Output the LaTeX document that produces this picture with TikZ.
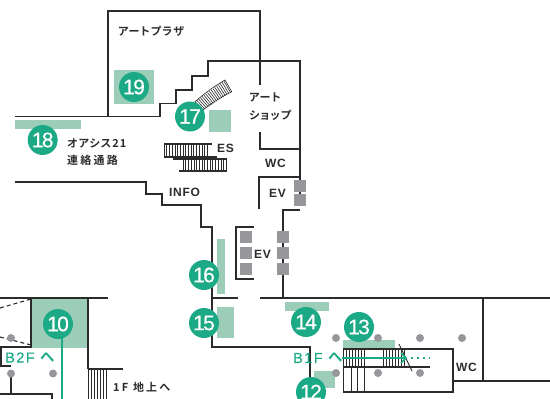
\documentclass[tikz,border=0pt]{standalone}
\usepackage{fontspec}
\usetikzlibrary{calc,arrows.meta}
\newfontfamily\jpf[LetterSpace=10,RawFeature={+palt}]{Noto Sans CJK JP Bold}
\newfontfamily\jpw[LetterSpace=20]{Noto Sans CJK JP Bold}
\newfontfamily\latf[LetterSpace=6]{Liberation Sans Bold}
\newfontfamily\tealf[LetterSpace=10,FakeBold=0.4]{Liberation Sans}
\newfontfamily\numf[LetterSpace=-8,FakeBold=0.5]{Liberation Sans}
\definecolor{wall}{HTML}{2B2B2B}
\definecolor{mint}{HTML}{9CCDB9}
\definecolor{teal1}{HTML}{1CA985}
\definecolor{post}{HTML}{97979B}
\tikzset{
  wallline/.style={draw=wall,line width=1.9pt,line join=miter},
  thin wall/.style={draw=wall,line width=1.1pt},
  zone/.style={fill=mint,draw=none},
  badge/.style={circle,fill=teal1,draw=none,minimum size=30pt,inner sep=0pt,text=white,font=\numf\fontsize{21}{21}\selectfont},
  lbl/.style={text=wall,inner sep=0pt,font=\latf\fontsize{12}{13}\selectfont},
  jlbl/.style={text=wall,inner sep=0pt,align=left,font=\jpf\fontsize{11}{15}\selectfont},
  wlbl/.style={text=wall,inner sep=0pt,align=left,font=\jpw\fontsize{11}{15}\selectfont},
  tlbl/.style={text=teal1,inner sep=0pt,font=\tealf\fontsize{14.5}{14}\selectfont},
  evbox/.style={fill=post,draw=none},
  dot/.style={circle,fill=post,draw=none,minimum size=8pt,inner sep=0pt},
  rung/.style={draw=wall,line width=.6pt},
}
\begin{document}
\begin{tikzpicture}[x=1pt,y=-1pt]
\path[use as bounding box] (0,0) rectangle (550,399);
\clip (0,0) rectangle (550,399);
% zones
\fill[zone] (114,70) rectangle (154,104);
\fill[zone] (209,110) rectangle (231,132);
\fill[zone] (15,120) rectangle (81,129);
\fill[zone] (217,239) rectangle (225,294);
\fill[zone] (217,307) rectangle (234,338);
\fill[zone] (285,302) rectangle (329,311);
\fill[zone] (343,340) rectangle (395,348);
\fill[zone] (314,371) rectangle (335,388);
\fill[zone] (31,298) rectangle (88,348);
% upper walls
\draw[wallline] (15,116.5) -- (160,116.5) -- (160,103.5) -- (176,103.5) -- (176,90) -- (192,90) -- (192,76) -- (208,76) -- (208,61) -- (300,61) -- (300,205);
\draw[wallline] (108,116.5) -- (108,11) -- (260,11) -- (260,85);
\draw[wallline] (260,132) -- (260,149) -- (300,149);
\draw[wallline,line width=2.4pt] (259,209) -- (259,177) -- (300,177);
\draw[wallline] (15,182) -- (146,182) -- (146,194) -- (162,194) -- (162,205) -- (201,205) -- (201,226.7) -- (212,226.7) -- (212,346.7) -- (310,346.7) -- (310,380);
\draw[wallline] (300,210) -- (283,210) -- (283,298);
\draw[wallline] (212,298) -- (238,298);
\draw[wallline] (260,298) -- (550,298);
\draw[wallline] (254,226.7) -- (236,226.7) -- (236,279) -- (254,279);
% lower right rooms
\draw[wallline] (343,392) -- (453,392) -- (453,349) -- (343,349);
\draw[wallline] (483,298) -- (483,381);
\draw[wallline] (453,381) -- (550,381);
% lower left
\draw[wallline] (88,369) -- (88,298);
\draw[wallline] (31,298) -- (108,298);
\draw[wallline] (88,369) -- (123,369);
\draw[wallline] (0,346.7) -- (31,346.7) -- (31,298);
\draw[thin wall] (0,298) -- (31,298);
\draw[thin wall] (1,346.7) -- (1,366) -- (11,366);
\draw[thin wall,dash pattern=on 4pt off 3pt] (0,308) -- (31,299);
\draw[thin wall,dash pattern=on 4pt off 3pt] (0,337) -- (31,345);
\draw[thin wall] (11,373) -- (11,394);
\draw[wallline] (0,394) -- (52,394) -- (52,399);
% lift boxes
\foreach \yy in {180,194} \fill[evbox] (294,\yy) rectangle (306,\yy+12);
\foreach \xx in {240,277} \foreach \yy in {231,247,263} \fill[evbox] (\xx,\yy) rectangle (\xx+12,\yy+12);
% escalator 17
\coordinate (esA) at (195,101.7);
\coordinate (esB) at (225,80);
\coordinate (esC) at (231.7,91.7);
\coordinate (esD) at (203,110);
\draw[rung] (esA) to[bend left=5] (esB) -- (esC) to[bend right=5] (esD) -- cycle;
\foreach \t in {0,0.06,...,1.0} \draw[rung] ($(esA)!\t!(esB)$) -- ($(esD)!\t!(esC)$);
% ES stairs
\foreach \xx in {164,166.7,...,207.5} \draw[rung] (\xx,144) -- (\xx,157);
\draw[thin wall] (164,144) -- (212,144);
\draw[thin wall] (164,157) -- (217,157);
\foreach \xx in {183,185.7,...,227.5} \draw[rung] (\xx,159) -- (\xx,171);
\draw[thin wall] (173,159) -- (227,159);
\draw[thin wall] (179,171) -- (227,171);
% 1F stairs
\foreach \xx in {88,91,...,107} \draw[rung] (\xx,370) -- (\xx,399);
% B1F stairs
\foreach \xx in {343,346,...,364} \draw[rung] (\xx,349) -- (\xx,367);
\foreach \xx in {383,386,...,404} \draw[rung] (\xx,349) -- (\xx,367);
\draw[thin wall] (343,367) -- (430,367);
\foreach \xx in {343,351,357,364} \draw[rung,line width=.8pt] (\xx,367) -- (\xx,392);
\draw[rung,line width=.9pt] (399,344) -- (412,371);
% dots
\foreach \n/\xx/\yy in {a/11/338,b/11/373.5,c/53/373.5,d/336/338,e/378/338,f/420/338,g/462/338,h/336/373,i/378/373,j/420/373}
  \node[dot] (dot\n) at (\xx,\yy) {};
% teal routes
\coordinate (rTop) at (62,338);
\coordinate (rEnd) at (62,399);
\coordinate (bStart) at (342,358);
\coordinate (bTip) at (406,358);
\coordinate (bDot) at (430,358);
\draw[teal1,line width=1.9pt] (bStart) -- (bTip);
\draw[teal1,line width=1.6pt] (bTip) ++(-5,-5) -- (bTip) -- ++(-5,5);
\draw[teal1,line width=1.7pt,dash pattern=on 1.7pt off 4.3pt] (411,358) -- (bDot);
% badges
\node[badge] (n19) at (134,87) {19};
\node[badge] (n17) at (190,116.5) {17};
\node[badge] (n18) at (42.7,140) {18};
\node[badge] (n16) at (204,275) {16};
\node[badge] (n15) at (204,323) {15};
\node[badge] (n14) at (306,322) {14};
\node[badge] (n13) at (359,327) {13};
\node[badge] (n12) at (311,392) {12};
\node[badge] (n10) at (58,324) {10};
\draw[teal1,line width=1.3pt] (rTop) -- (rEnd);
% labels
\node[jlbl,anchor=west] (t1) at (118,31) {アートプラザ};
\node[jlbl,anchor=west] (t2) at (249,97) {アート};
\node[jlbl,anchor=west] (t3) at (249,115) {ショップ};
\node[jlbl,anchor=west] (t4) at (67,143) {オアシス21};
\node[wlbl,anchor=west] (t5) at (67,160) {連絡通路};
\node[lbl,anchor=west] (t6) at (217,148) {ES};
\node[lbl,anchor=west] (t7) at (265,163) {WC};
\node[lbl,anchor=west] (t8) at (269,193) {EV};
\node[lbl,anchor=west] (t9) at (169,192) {INFO};
\node[lbl,anchor=west] (t10) at (254,254) {EV};
\node[lbl,anchor=west] (t11) at (456,367) {WC};
\node[wlbl,anchor=west] (t12) at (113,387) {1F 地上へ};
\node[tlbl,anchor=west] (t13) at (5,357.5) {B2F {\jpf へ}};
\node[tlbl,anchor=west] (t14) at (293,358) {B1F {\jpf へ}};
\end{tikzpicture}
\end{document}
